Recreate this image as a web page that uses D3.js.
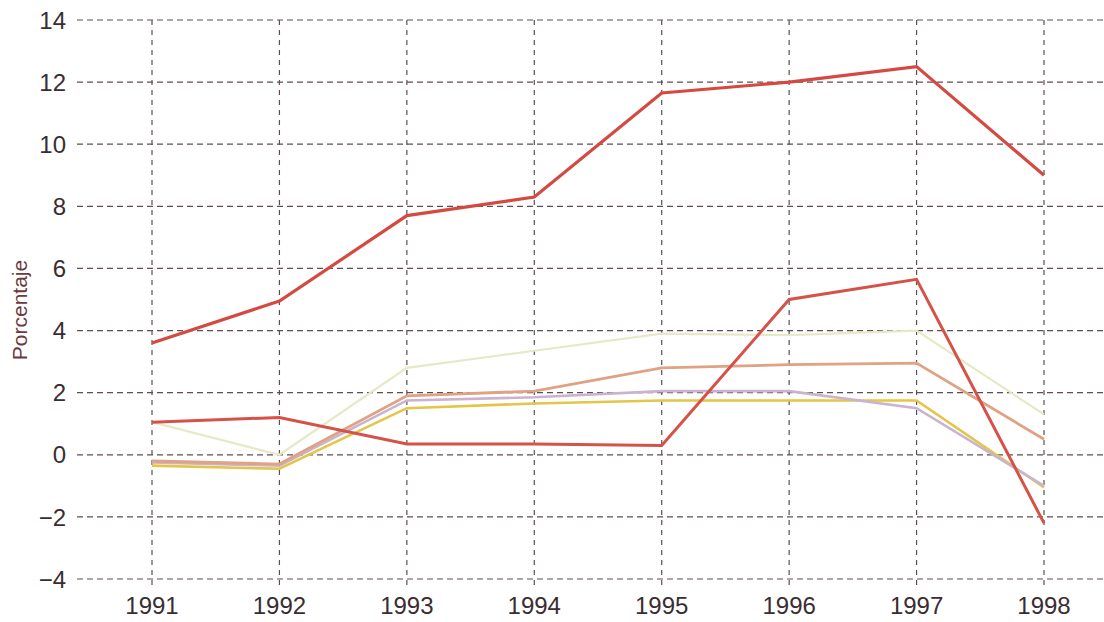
<!DOCTYPE html>
<html lang="es">
<head>
<meta charset="UTF-8">
<title>Porcentaje</title>
<script src="https://cdn.jsdelivr.net/npm/d3@7"></script>
<style>
body { margin: 0; background: #fff; font-family: "Liberation Sans", Arial, sans-serif; }
.grid line { stroke: #5e4e52; stroke-width: 1.2px; stroke-dasharray: 6 4; }
.grid .v line { stroke-dasharray: 5 5; }
.tick-label { fill: #3a2d31; font-size: 24px; }
.line { fill: none; stroke-linejoin: miter; }
</style>
</head>
<body>
<svg width="1104" height="622"></svg>
<script>
var years = [1991, 1992, 1993, 1994, 1995, 1996, 1997, 1998];
var yTicks = [-4, -2, 0, 2, 4, 6, 8, 10, 12, 14];

var paleSeries   = [1.05, 0.0, 2.8, 3.35, 3.9, 3.85, 4.0, 1.3];
var lavenderSeries = [-0.25, -0.35, 1.75, 1.85, 2.05, 2.05, 1.5, -1.0];
var yellowSeries = [-0.35, -0.45, 1.5, 1.65, 1.75, 1.75, 1.75, -1.05];
var orangeSeries = [-0.2, -0.3, 1.9, 2.05, 2.8, 2.9, 2.95, 0.5];
var redLowSeries = [1.05, 1.2, 0.35, 0.35, 0.3, 5.0, 5.65, -2.2];
var redTopSeries = [3.6, 4.95, 7.7, 8.3, 11.65, 12.0, 12.5, 9.0];

var svg = d3.select("svg");

var x = d3.scaleLinear().domain([1991, 1998]).range([152, 1044]);
var y = d3.scaleLinear().domain([-4, 14]).range([579, 20]);

// horizontal grid
var grid = svg.append("g").attr("class", "grid");
grid.append("g").selectAll("line")
	.data(yTicks)
	.enter().append("line")
	.attr("x1", 77).attr("x2", 1104)
	.attr("y1", function(d) { return y(d); })
	.attr("y2", function(d) { return y(d); });

// vertical grid
grid.append("g").attr("class", "v").selectAll("line")
	.data(years)
	.enter().append("line")
	.attr("x1", function(d) { return x(d); })
	.attr("x2", function(d) { return x(d); })
	.attr("y1", y(14)).attr("y2", 588);

// y labels
svg.append("g").selectAll("text")
	.data(yTicks)
	.enter().append("text")
	.attr("class", "tick-label")
	.attr("x", 66)
	.attr("y", function(d) { return y(d); })
	.attr("dy", "0.36em")
	.attr("text-anchor", "end")
	.text(function(d) { return d < 0 ? "\u2212" + Math.abs(d) : d; });

// x labels
svg.append("g").selectAll("text")
	.data(years)
	.enter().append("text")
	.attr("class", "tick-label")
	.attr("x", function(d) { return x(d); })
	.attr("y", 614)
	.attr("text-anchor", "middle")
	.text(function(d) { return d; });

svg.append("text")
	.attr("transform", "translate(27,310) rotate(-90)")
	.attr("text-anchor", "middle")
	.style("font-size", "21px")
	.style("fill", "#6b3a3e")
	.text("Porcentaje");

var line = d3.line()
	.x(function(d, i) { return x(years[i]); })
	.y(function(d) { return y(d); });

var series = [
	{ values: paleSeries, color: "#e6e9c6", width: 2.2 },
	{ values: yellowSeries, color: "#e3c548", width: 2.6 },
	{ values: lavenderSeries, color: "#c9b3cf", width: 2.6 },
	{ values: orangeSeries, color: "#dfa283", width: 2.8 },
	{ values: redLowSeries, color: "#d65248", width: 3 },
	{ values: redTopSeries, color: "#d44a42", width: 3.2 }
];

svg.append("g").selectAll("path")
	.data(series)
	.enter().append("path")
	.attr("class", "line")
	.attr("stroke", function(d) { return d.color; })
	.attr("stroke-width", function(d) { return d.width; })
	.attr("d", function(d) { return line(d.values); });
</script>
</body>
</html>
